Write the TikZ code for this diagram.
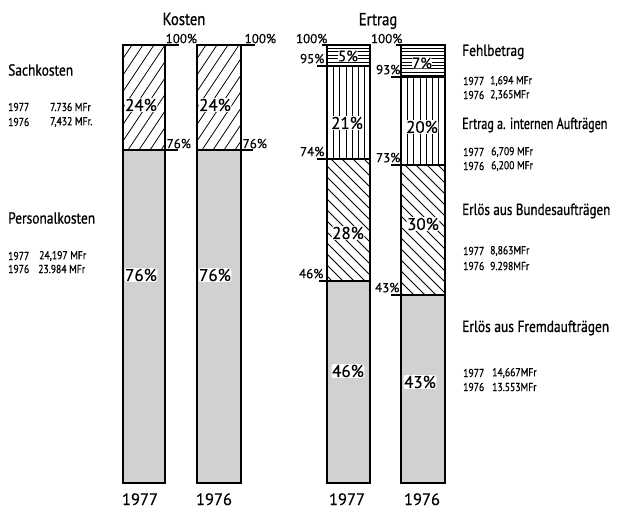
\documentclass[tikz,border=0pt]{standalone}
\usepackage{fontspec}
\setmainfont[FakeStretch=0.84, FakeBold=0.7]{PT Sans}
\newfontfamily\widefont[FakeBold=0.5]{PT Sans}
\begin{document}
\begin{tikzpicture}[x=1pt,y=-1pt,
  barline/.style={line width=1.3pt},
  hatch/.style={line width=0.75pt},
  stip/.style={fill=black!18},
  head/.style={font=\fontsize{16}{16}\selectfont, anchor=west, inner sep=0pt},
  val/.style={font=\fontsize{11.5}{11.5}\selectfont, anchor=west, inner sep=0pt},
  pct/.style={font=\widefont\fontsize{17}{17}\selectfont, fill=white, inner sep=0.6pt, rounded corners=2pt},
  tickr/.style={font=\widefont\fontsize{13}{13}\selectfont, anchor=south west, inner sep=0.5pt},
  tickl/.style={font=\widefont\fontsize{13}{13}\selectfont, anchor=south east, inner sep=0.5pt},
  year/.style={font=\widefont\fontsize{16.5}{16.5}\selectfont, inner sep=0pt, anchor=base},
  title/.style={font=\fontsize{17.5}{18}\selectfont, inner sep=0pt}]
\useasboundingbox[fill=white] (0,0) rectangle (617,511);
\newcommand\nelines[4]{\begin{scope}\clip (#1,#2) rectangle (#3,#4);
  \foreach \k in {0,...,30} {\draw[hatch] ({#1-160+\k*11},#4) -- ++(160,-240);}\end{scope}}
\newcommand\nwlines[4]{\begin{scope}\clip (#1,#2) rectangle (#3,#4);
  \foreach \k in {0,...,30} {\draw[hatch] ({#1-150+\k*11},#2) -- ++(150,150);}\end{scope}}
\newcommand\vlines[4]{\begin{scope}\clip (#1,#2) rectangle (#3,#4);
  \foreach \k in {1,...,7} {\draw[hatch] ({#1+\k*6.3},#2) -- ({#1+\k*6.3},#4);}\end{scope}}
\newcommand\hlines[4]{\begin{scope}\clip (#1,#2) rectangle (#3,#4);
  \foreach \k in {1,...,10} {\draw[hatch] (#1,{#2+\k*3.4}) -- (#3,{#2+\k*3.4});}\end{scope}}
% ---------- Kosten ----------
\fill[stip] (123,150) rectangle (165,483);
\fill[stip] (197,150) rectangle (241,483);
\nelines{123}{45}{165}{150}
\nelines{197}{45}{241}{150}
% ---------- Ertrag ----------
\hlines{327}{45}{370}{66}
\hlines{401}{45}{445}{77}
\vlines{327}{66}{370}{159}
\vlines{401}{77}{445}{165}
\nwlines{327}{159}{370}{281}
\nwlines{401}{165}{445}{295}
\fill[stip] (327,281) rectangle (370,483);
\fill[stip] (401,295) rectangle (445,483);
% in-bar percentages (white patches, drawn before outlines)
\node[pct] (p1) at (141,105) {24\%};
\node[pct] (p2) at (215,105) {24\%};
\node[pct] (p3) at (141,275) {76\%};
\node[pct] (p4) at (215,275) {76\%};
\node[pct, inner sep=0pt, font=\widefont\fontsize{15}{15}\selectfont] (p5) at (348,56) {5\%};
\node[pct, inner sep=0pt, font=\widefont\fontsize{15}{15}\selectfont] (p6) at (422,63) {7\%};
\node[pct] (p7) at (347,123) {21\%};
\node[pct] (p8) at (422,127) {20\%};
\node[pct] (p9) at (348,233) {28\%};
\node[pct] (p10) at (423,224) {30\%};
\node[pct] (p11) at (348,371) {46\%};
\node[pct] (p12) at (420,382) {43\%};
% outlines
\draw[barline] (123,45) rectangle (165,483);
\draw[barline] (197,45) rectangle (241,483);
\draw[barline] (327,45) rectangle (370,483);
\draw[barline] (401,45) rectangle (445,483);
% tick lines Kosten
\draw[barline] (123,45) -- (179,45);
\draw[barline] (123,150) -- (178,150);
\draw[barline] (197,45) -- (255,45);
\draw[barline] (197,150) -- (253,150);
% tick lines Ertrag
\draw[barline] (322,45) -- (370,45);
\draw[barline] (317,66) -- (370,66);
\draw[barline] (317,159) -- (370,159);
\draw[barline] (319,281) -- (370,281);
\draw[barline] (396,45) -- (445,45);
\draw[barline] (391,77) -- (445,77);
\draw[barline] (391,165) -- (445,165);
\draw[barline] (391,295) -- (445,295);
% tick labels
\node[tickr] (k77a) at (165,44) {100\%};
\node[tickr] (k77b) at (166,149) {76\%};
\node[tickr] (k76a) at (244,44) {100\%};
\node[tickr] (k76b) at (242,149) {76\%};
\node[tickl] (e77a) at (328,44) {100\%};
\node[tickl] (e77b) at (325,64) {95\%};
\node[tickl] (e77c) at (325,157) {74\%};
\node[tickl] (e77d) at (324,279) {46\%};
\node[tickl] (e76a) at (403,44) {100\%};
\node[tickl] (e76b) at (401,75) {93\%};
\node[tickl] (e76c) at (401,163) {73\%};
\node[tickl] (e76d) at (400,293) {43\%};
% titles
\node[title] (tk) at (184,19) {Kosten};
\node[title] (te) at (378,21) {Ertrag};
% years
\node[year] (y1) at (140,505) {1977};
\node[year] (y2) at (214,505) {1976};
\node[year] (y3) at (347,505) {1977};
\node[year] (y4) at (422,505) {1976};
% left labels
\node[head] (sk) at (8,70) {Sachkosten};
\node[val] (sk1a) at (8,107) {1977};
\node[val] (sk1b) at (50,107) {7.736 MFr};
\node[val] (sk2a) at (8,122) {1976};
\node[val] (sk2b) at (50,122) {7,432 MFr.};
\node[head] (pk) at (8,218) {Personalkosten};
\node[val] (pk1a) at (8,256) {1977};
\node[val] (pk1b) at (39,256) {24,197 MFr};
\node[val] (pk2a) at (8,269) {1976};
\node[val] (pk2b) at (38,269) {23.984 MFr};
% right labels
\node[head] (fb) at (462,52) {Fehlbetrag};
\node[val] (fb1a) at (463,81) {1977};
\node[val] (fb1b) at (490,81) {1,694 MFr};
\node[val] (fb2a) at (463,95) {1976};
\node[val] (fb2b) at (490,95) {2,365MFr};
\node[head] (ia) at (462,125) {\scalebox{0.9}[1]{Ertrag a. internen Aufträgen}};
\node[val] (ia1a) at (463,152) {1977};
\node[val] (ia1b) at (491,152) {6,709 MFr};
\node[val] (ia2a) at (463,166) {1976};
\node[val] (ia2b) at (491,166) {6,200 MFr};
\node[head] (ba) at (462,211) {\scalebox{0.97}[1]{Erlös aus Bundesaufträgen}};
\node[val] (ba1a) at (463,251) {1977};
\node[val] (ba1b) at (490,251) {8,863MFr};
\node[val] (ba2a) at (463,266) {1976};
\node[val] (ba2b) at (490,266) {9.298MFr};
\node[head] (fa) at (462,328) {Erlös aus Fremdaufträgen};
\node[val] (fa1a) at (463,373) {1977};
\node[val] (fa1b) at (492,373) {14,667MFr};
\node[val] (fa2a) at (463,387) {1976};
\node[val] (fa2b) at (492,387) {13.553MFr};
\end{tikzpicture}
\end{document}
